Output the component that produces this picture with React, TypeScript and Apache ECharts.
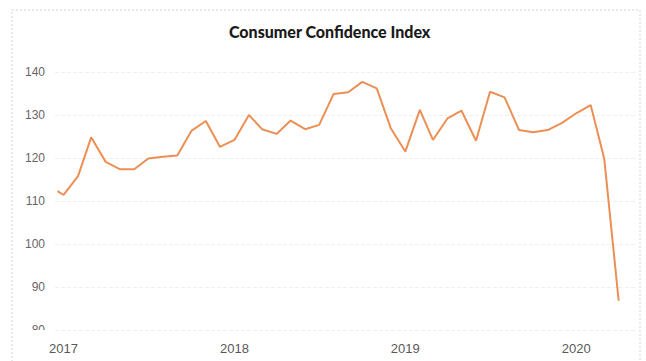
import React, { useEffect, useRef } from "react";
import * as echarts from "echarts";

const titleText = "Consumer Confidence Index";

const dates = [
  "2016-12-19",
  "2017-01-01", "2017-02-01", "2017-03-01", "2017-04-01", "2017-05-01", "2017-06-01",
  "2017-07-01", "2017-08-01", "2017-09-01", "2017-10-01", "2017-11-01", "2017-12-01",
  "2018-01-01", "2018-02-01", "2018-03-01", "2018-04-01", "2018-05-01", "2018-06-01",
  "2018-07-01", "2018-08-01", "2018-09-01", "2018-10-01", "2018-11-01", "2018-12-01",
  "2019-01-01", "2019-02-01", "2019-03-01", "2019-04-01", "2019-05-01", "2019-06-01",
  "2019-07-01", "2019-08-01", "2019-09-01", "2019-10-01", "2019-11-01", "2019-12-01",
  "2020-01-01", "2020-02-01", "2020-03-01", "2020-04-01",
];

const values = [
  112.3,
  111.4, 115.8, 124.8, 119.1, 117.4, 117.4, 119.9, 120.3, 120.6, 126.3, 128.6, 122.6,
  124.2, 130.0, 126.7, 125.6, 128.7, 126.7, 127.7, 134.9, 135.3, 137.7, 136.2, 126.9,
  121.5, 131.2, 124.2, 129.2, 131.0, 124.0, 135.4, 134.1, 126.5, 126.0, 126.5, 128.1,
  130.4, 132.3, 119.9, 86.8,
];

const yTicks = [80, 90, 100, 110, 120, 130, 140];
const xYearLabels = [2017, 2018, 2019, 2020];

function toYearFraction(s: string): number {
  const [y, m, d] = s.split("-").map(Number);
  const start = Date.UTC(y, 0, 1);
  const end = Date.UTC(y + 1, 0, 1);
  const t = Date.UTC(y, m - 1, d);
  return y + (t - start) / (end - start);
}

export default function App() {
  const ref = useRef<HTMLDivElement>(null);

  useEffect(() => {
    if (!ref.current) return;
    const chart = echarts.init(ref.current, undefined, { renderer: "svg" });
    const seriesData = dates.map((d, i) => [toYearFraction(d), values[i]]);
    chart.setOption({
      animation: false,
      backgroundColor: "#ffffff",
      title: {
        text: titleText,
        left: 224,
        top: 18,
        padding: 5,
        textStyle: {
          fontFamily: "Lato",
          fontWeight: 900,
          fontSize: 16,
          color: "#1a1a1a",
        },
      },
      grid: {
        left: 55,
        right: 10,
        top: 72,
        bottom: 31,
        containLabel: false,
      },
      xAxis: {
        type: "value",
        min: 2016.95,
        max: 2020.35,
        splitNumber: 3,
        axisLine: { show: false },
        axisTick: { show: false },
        splitLine: { show: false },
        axisLabel: {
          showMinLabel: false,
          showMaxLabel: false,
          margin: 12,
          fontSize: 13,
          fontFamily: "Liberation Sans Narrow, Liberation Sans, sans-serif",
          color: "#595959",
          formatter: (v: number) => {
            const r = Math.round(v);
            return Math.abs(v - r) < 1e-6 && xYearLabels.includes(r) ? String(r) : "";
          },
        },
      },
      yAxis: {
        type: "value",
        min: yTicks[0],
        max: yTicks[yTicks.length - 1],
        interval: 10,
        axisLine: { show: false },
        axisTick: { show: false },
        splitLine: {
          show: true,
          lineStyle: { color: "#efefef", type: "dashed", width: 1 },
        },
        axisLabel: {
          margin: 10,
          fontSize: 12,
          fontFamily: "Liberation Sans Narrow, Liberation Sans, sans-serif",
          color: "#666666",
        },
      },
      series: [
        {
          type: "line",
          data: seriesData,
          showSymbol: false,
          symbol: "none",
          lineStyle: { color: "#EC8F55", width: 2 },
          itemStyle: { color: "#EC8F55" },
        },
      ],
      graphic: [
        {
          type: "rect",
          z: 100,
          silent: true,
          shape: { x: 18, y: 330, width: 32, height: 10 },
          style: { fill: "#ffffff" },
        },
        {
          type: "rect",
          z: 101,
          silent: true,
          shape: { x: 12, y: 10, width: 628, height: 360 },
          style: { fill: "none", stroke: "#d4d4d4", lineWidth: 1, lineDash: [2, 2] },
        },
      ],
    });
    return () => {
      chart.dispose();
    };
  }, []);

  return (
    <div
      ref={ref}
      style={{ position: "fixed", left: 0, top: 0, width: 646, height: 361 }}
    />
  );
}
